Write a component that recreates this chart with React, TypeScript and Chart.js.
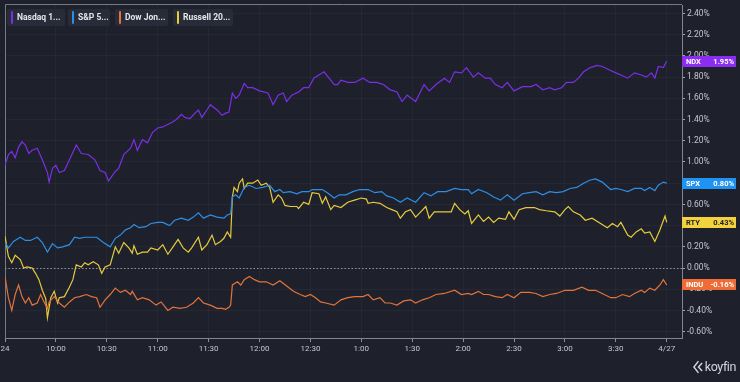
import React, { useEffect, useRef } from "react";
import { Chart, registerables } from "chart.js";

Chart.register(...registerables);

// ---- data (minutes after 9:30 and % change) ----
const ndxTimes = [0,2,4,6,8,10,12,14,16,19,22,25,26,28,30,32,35,38,42,45,49,53,56,59,61,65,67,70,74,76,78,81,84,87,90,93,98,101,104,106,109,112,114,116,119,121,125,128,130,132,134,136,138,141,143,146,150,155,158,161,164,166,169,173,176,179,182,185,188,191,194,196,198,202,206,211,215,219,223,227,231,234,237,242,247,250,254,259,262,265,269,272,276,279,283,286,289,293,296,300,305,310,313,317,321,324,328,331,335,338,341,345,349,352,356,360,363,367,371,375,378,381,383,385,388,390];
const ndxValues = [0.97,1.07,1.10,1.04,1.14,1.19,1.16,1.08,1.11,1.13,1.02,0.90,0.81,0.94,0.97,0.90,0.92,1.02,1.16,1.08,1.07,1.02,0.92,0.90,0.82,0.91,0.94,1.07,1.13,1.21,1.11,1.21,1.18,1.28,1.32,1.33,1.37,1.40,1.45,1.42,1.41,1.46,1.49,1.42,1.49,1.54,1.49,1.44,1.46,1.47,1.65,1.60,1.63,1.74,1.70,1.70,1.67,1.65,1.54,1.63,1.65,1.57,1.63,1.66,1.70,1.70,1.79,1.82,1.85,1.79,1.73,1.73,1.77,1.75,1.75,1.79,1.75,1.75,1.73,1.68,1.66,1.57,1.63,1.57,1.73,1.67,1.73,1.79,1.75,1.85,1.84,1.89,1.80,1.84,1.79,1.79,1.73,1.70,1.75,1.67,1.71,1.71,1.73,1.68,1.70,1.68,1.70,1.75,1.75,1.79,1.85,1.89,1.91,1.90,1.87,1.84,1.82,1.79,1.84,1.82,1.80,1.84,1.79,1.90,1.89,1.95];

const spxTimes = [0,2,5,9,12,15,19,22,25,28,31,34,38,41,44,47,50,54,58,62,65,68,71,74,76,79,83,86,90,93,97,100,104,108,111,114,117,121,125,129,131,133,134,136,138,141,144,148,152,156,159,162,164,168,172,175,179,181,184,187,190,194,197,201,205,209,214,218,222,225,229,233,237,242,247,251,255,260,265,269,273,275,279,284,288,292,296,300,305,309,313,317,321,325,329,333,337,341,345,348,352,357,360,363,367,371,375,377,380,383,385,388,390];
const spxValues = [0.24,0.19,0.25,0.29,0.26,0.26,0.29,0.24,0.15,0.23,0.19,0.20,0.22,0.29,0.28,0.29,0.29,0.29,0.24,0.20,0.28,0.31,0.36,0.38,0.41,0.38,0.39,0.42,0.43,0.43,0.40,0.45,0.47,0.45,0.48,0.52,0.47,0.50,0.48,0.47,0.50,0.51,0.67,0.69,0.66,0.76,0.78,0.75,0.76,0.78,0.72,0.74,0.71,0.72,0.70,0.72,0.72,0.74,0.74,0.74,0.71,0.66,0.69,0.69,0.72,0.74,0.74,0.71,0.72,0.68,0.66,0.62,0.66,0.62,0.71,0.68,0.72,0.72,0.75,0.74,0.74,0.70,0.74,0.71,0.67,0.64,0.69,0.64,0.70,0.71,0.72,0.69,0.72,0.71,0.72,0.75,0.76,0.80,0.83,0.84,0.81,0.74,0.75,0.74,0.72,0.75,0.75,0.73,0.76,0.73,0.78,0.81,0.80];

const induTimes = [0,2,4,6,8,10,12,14,16,19,21,23,25,26,29,32,35,38,41,44,48,51,54,56,59,62,65,68,71,74,75,78,81,85,89,92,96,99,103,107,111,114,117,121,125,128,130,132,133,134,137,139,141,144,147,150,154,158,162,166,170,174,177,180,183,186,189,194,198,202,206,211,214,217,221,224,227,231,235,239,242,246,250,254,259,265,269,273,275,279,282,285,289,293,296,300,304,309,313,317,321,325,330,335,340,344,348,352,357,360,364,368,371,375,377,380,383,386,388,390];
const induValues = [-0.08,-0.28,-0.40,-0.25,-0.16,-0.27,-0.33,-0.28,-0.35,-0.33,-0.25,-0.32,-0.38,-0.32,-0.27,-0.33,-0.37,-0.32,-0.28,-0.27,-0.25,-0.27,-0.28,-0.37,-0.30,-0.25,-0.19,-0.23,-0.21,-0.25,-0.22,-0.30,-0.28,-0.30,-0.35,-0.32,-0.40,-0.37,-0.38,-0.37,-0.33,-0.28,-0.33,-0.35,-0.38,-0.38,-0.39,-0.37,-0.35,-0.16,-0.13,-0.16,-0.11,-0.08,-0.11,-0.13,-0.13,-0.16,-0.12,-0.17,-0.22,-0.25,-0.27,-0.25,-0.28,-0.32,-0.33,-0.35,-0.30,-0.28,-0.27,-0.27,-0.25,-0.30,-0.28,-0.33,-0.33,-0.35,-0.31,-0.30,-0.33,-0.30,-0.28,-0.25,-0.24,-0.21,-0.25,-0.24,-0.25,-0.22,-0.25,-0.25,-0.27,-0.28,-0.25,-0.28,-0.23,-0.23,-0.24,-0.27,-0.25,-0.24,-0.21,-0.21,-0.18,-0.21,-0.21,-0.24,-0.28,-0.28,-0.25,-0.27,-0.24,-0.21,-0.23,-0.19,-0.21,-0.16,-0.11,-0.16];

const rtyTimes = [0,2,4,6,9,11,13,16,18,20,22,24,25,27,29,31,32,35,38,40,42,45,47,49,52,55,57,59,62,65,67,70,73,75,76,78,81,84,86,90,93,96,99,102,105,108,110,114,116,119,122,124,127,129,131,133,134,135,137,138,140,141,143,146,149,151,154,156,158,161,163,165,168,172,173,176,179,181,185,187,189,192,194,198,202,206,210,213,214,217,221,225,228,231,233,236,239,242,245,248,250,253,256,260,263,265,268,271,273,275,279,282,285,288,291,295,297,300,303,307,312,315,319,324,327,330,332,335,339,342,346,351,355,358,361,363,367,369,372,375,377,380,383,386,389,390];
const rtyValues = [0.30,0.11,0.05,0.12,0.08,0.00,0.01,0.00,-0.05,-0.11,-0.21,-0.29,-0.47,-0.28,-0.22,-0.33,-0.28,-0.27,-0.18,-0.11,0.03,0.01,0.05,0.03,0.06,0.03,-0.05,0.01,0.03,0.20,0.14,0.24,0.19,0.14,0.21,0.13,0.15,0.15,0.19,0.17,0.22,0.13,0.20,0.27,0.19,0.15,0.19,0.29,0.17,0.22,0.31,0.22,0.25,0.28,0.34,0.29,0.67,0.76,0.72,0.80,0.84,0.75,0.80,0.80,0.83,0.78,0.80,0.76,0.62,0.69,0.66,0.59,0.58,0.58,0.56,0.62,0.60,0.71,0.70,0.61,0.67,0.55,0.59,0.57,0.62,0.64,0.66,0.65,0.61,0.62,0.61,0.57,0.55,0.53,0.47,0.53,0.55,0.48,0.53,0.58,0.47,0.53,0.53,0.53,0.53,0.61,0.55,0.51,0.54,0.42,0.50,0.44,0.48,0.43,0.47,0.46,0.53,0.46,0.55,0.57,0.57,0.55,0.54,0.53,0.49,0.55,0.58,0.53,0.50,0.45,0.47,0.42,0.38,0.42,0.39,0.43,0.31,0.29,0.34,0.37,0.33,0.34,0.25,0.36,0.49,0.43];

const legendNames = ["Nasdaq 1...", "S&P 5...", "Dow Jon...", "Russell 20..."];
const seriesCodes = ["NDX", "SPX", "INDU", "RTY"];

const xTickValues = [0, 30, 60, 90, 120, 150, 180, 210, 240, 270, 300, 330, 360, 390];
const xTickLabels = ["24", "10:00", "10:30", "11:00", "11:30", "12:00", "12:30", "1:00", "1:30", "2:00", "2:30", "3:00", "3:30", "4/27"];
const yTickValues = [-0.6, -0.4, -0.2, 0, 0.2, 0.4, 0.6, 0.8, 1.0, 1.2, 1.4, 1.6, 1.8, 2.0, 2.2, 2.4];

// ---- styles ----
const BG = "#1e212c";
const lineColors = ["#7a2fe6", "#2e8ee4", "#e2733a", "#e6cb3c"];
const boxColors = ["#8b2cf2", "#1f93f2", "#f06c36", "#f3d23c"];
const boxTextColors = ["#ffffff", "#ffffff", "#ffffff", "#1c1e28"];
const legendGeom = [
  { left: 7, width: 58 },
  { left: 68, width: 42 },
  { left: 115, width: 53 },
  { left: 173, width: 60 },
];

const zip = (t: number[], v: number[]) => t.map((x, i) => ({ x, y: v[i] }));

const framePlugin = {
  id: "frame",
  beforeDatasetsDraw(chart: any) {
    const { ctx, chartArea, scales } = chart;
    ctx.save();
    ctx.strokeStyle = "#757a85";
    ctx.lineWidth = 1;
    ctx.beginPath();
    ctx.moveTo(chartArea.left + 0.5, chartArea.bottom);
    ctx.lineTo(chartArea.left + 0.5, chartArea.top - 0.5);
    ctx.lineTo(chartArea.right, chartArea.top - 0.5);
    ctx.stroke();
    const y0 = Math.round(scales.y.getPixelForValue(0)) + 0.5;
    ctx.strokeStyle = "#8f949e";
    ctx.setLineDash([1.5, 2]);
    ctx.beginPath();
    ctx.moveTo(chartArea.left, y0);
    ctx.lineTo(chartArea.right, y0);
    ctx.stroke();
    ctx.restore();
  },
};

const lastBoxPlugin = {
  id: "lastBoxes",
  afterDraw(chart: any) {
    const { ctx, chartArea, scales } = chart;
    ctx.save();
    chart.data.datasets.forEach((ds: any, i: number) => {
      const last = ds.data[ds.data.length - 1];
      const py = scales.y.getPixelForValue(last.y);
      const x0 = chartArea.right;
      ctx.fillStyle = boxColors[i];
      ctx.fillRect(x0, Math.round(py - 5.5), 54, 11);
      ctx.fillStyle = boxTextColors[i];
      ctx.font = "bold 7.5px Roboto, 'DejaVu Sans', sans-serif";
      ctx.textBaseline = "middle";
      ctx.textAlign = "left";
      ctx.fillText(seriesCodes[i], x0 + 4, py + 0.5);
      ctx.textAlign = "right";
      ctx.fillText(last.y.toFixed(2) + "%", x0 + 52, py + 0.5);
    });
    ctx.restore();
  },
};

export default function App() {
  const canvasRef = useRef<HTMLCanvasElement | null>(null);

  useEffect(() => {
    document.body.style.margin = "0";
    document.body.style.background = BG;
    const canvas = canvasRef.current;
    if (!canvas) return;
    const seriesData = [
      zip(ndxTimes, ndxValues),
      zip(spxTimes, spxValues),
      zip(induTimes, induValues),
      zip(rtyTimes, rtyValues),
    ];
    const chart = new Chart(canvas, {
      type: "line",
      data: {
        datasets: seriesData.map((d, i) => ({
          label: legendNames[i],
          data: d,
          borderColor: lineColors[i],
          backgroundColor: lineColors[i],
          borderWidth: 1.2,
          pointRadius: 0,
          tension: 0,
          fill: false,
        })),
      },
      options: {
        animation: false,
        responsive: false,
        maintainAspectRatio: false,
        devicePixelRatio: 1,
        layout: { padding: { left: 5, top: 5, right: 0, bottom: 0 } },
        plugins: { legend: { display: false }, tooltip: { enabled: false } },
        scales: {
          x: {
            type: "linear",
            min: 0,
            max: 399,
            position: "bottom",
            afterBuildTicks: (s: any) => {
              s.ticks = xTickValues.map((v) => ({ value: v }));
            },
            afterFit: (s: any) => {
              s.height = 44;
              s.paddingLeft = 0;
              s.paddingRight = 0;
            },
            ticks: {
              autoSkip: false,
              maxRotation: 0,
              minRotation: 0,
              padding: 2,
              color: "#c3c7cf",
              font: { family: "Roboto, 'DejaVu Sans', sans-serif", size: 8 },
              callback: (v: any) => {
                const idx = xTickValues.indexOf(Number(v));
                return idx >= 0 ? xTickLabels[idx] : "";
              },
            },
            grid: { color: "rgba(255,255,255,0.035)", tickColor: "#8c919b", tickLength: 4 },
            border: { color: "#80858f" },
          },
          y: {
            type: "linear",
            position: "right",
            min: -0.66,
            max: 2.48,
            afterBuildTicks: (s: any) => {
              s.ticks = yTickValues.map((v) => ({ value: v }));
            },
            afterFit: (s: any) => {
              s.width = 58;
              s.paddingTop = 0;
              s.paddingBottom = 0;
            },
            ticks: {
              autoSkip: false,
              padding: 2,
              color: "#c3c7cf",
              font: { family: "Roboto, 'DejaVu Sans', sans-serif", size: 8.5 },
              callback: (v: any) => Number(v).toFixed(2) + "%",
            },
            grid: { color: "rgba(255,255,255,0.03)", tickColor: "#a0a5ae", tickLength: 3 },
            border: { color: "#80858f" },
          },
        },
      } as any,
      plugins: [framePlugin, lastBoxPlugin],
    });
    return () => chart.destroy();
  }, []);

  return (
    <div style={{ position: "relative", width: 740, height: 382, background: BG, overflow: "hidden" }}>
      <style>{`body{margin:0;background:${BG};}`}</style>
      <canvas ref={canvasRef} width={740} height={382} style={{ display: "block", width: 740, height: 382 }} />
      {legendNames.map((name, i) => (
        <div
          key={name}
          style={{
            position: "absolute",
            top: 9,
            left: legendGeom[i].left,
            width: legendGeom[i].width,
            height: 17,
            background: "#282c38",
            borderRadius: 2,
          }}
        >
          <div
            style={{
              position: "absolute",
              left: 4,
              top: 2,
              width: 2,
              height: 13,
              borderRadius: 1,
              background: lineColors[i],
            }}
          />
          <div
            style={{
              position: "absolute",
              left: 10,
              top: 0,
              lineHeight: "17px",
              fontFamily: "Roboto, 'DejaVu Sans', sans-serif",
              fontWeight: 700,
              fontSize: 8.5,
              color: "#e4e6eb",
              whiteSpace: "nowrap",
            }}
          >
            {name}
          </div>
        </div>
      ))}
      <div style={{ position: "absolute", right: 4, top: 359, display: "flex", alignItems: "center" }}>
        <svg width="10" height="14" viewBox="0 0 11 15">
          <path d="M6 1 L1 7.5 L6 14" stroke="#d3d6dc" strokeWidth="1.6" fill="none" />
          <path d="M10 3 L6 7.5 L10 12" stroke="#d3d6dc" strokeWidth="1.6" fill="none" />
        </svg>
        <span
          style={{
            marginLeft: 2,
            fontFamily: "Roboto, 'DejaVu Sans', sans-serif",
            fontSize: 12.5,
            color: "#d3d6dc",
            letterSpacing: -0.4,
            lineHeight: "15px",
          }}
        >
          koyfin
        </span>
      </div>
    </div>
  );
}
